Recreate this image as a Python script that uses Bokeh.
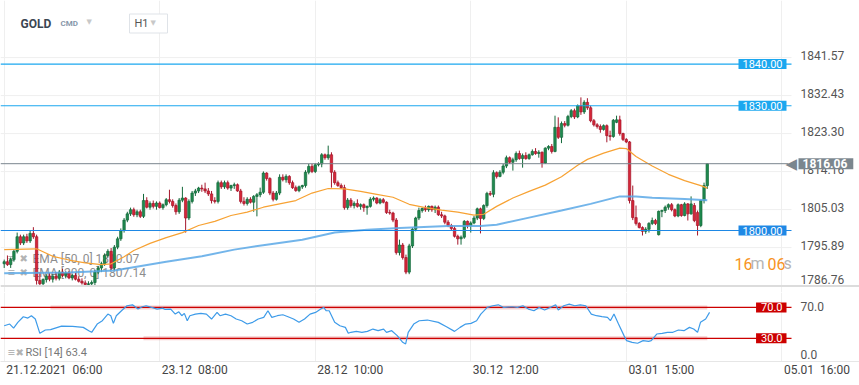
from bokeh.plotting import figure
from bokeh.layouts import column
from bokeh.models import Range1d, FixedTicker, Label, ColumnDataSource
from bokeh.core.properties import value
from bokeh.embed import file_html
from bokeh.resources import INLINE

# ---------------- data ----------------
instrument = "GOLD"
market = "CMD"
interval = "H1"

opens = [1792.0, 1792.5, 1791.8, 1793.0, 1795.0, 1798.5, 1797.0, 1798.5, 1797.5, 1799.3,
         1798.5, 1788.0, 1787.2, 1788.2, 1789.0, 1788.3, 1789.0, 1788.5, 1790.0, 1789.2,
         1789.8, 1788.6, 1789.2, 1788.3, 1787.8, 1787.4, 1787.0, 1787.2, 1787.5, 1790.0,
         1791.0, 1792.0, 1794.0, 1795.0, 1791.0, 1796.0, 1798.0, 1800.0, 1802.5, 1804.0,
         1805.0, 1803.8, 1804.5, 1803.4, 1807.2, 1805.6, 1806.5, 1805.8, 1806.6, 1805.5,
         1806.2, 1807.4, 1807.0, 1806.0, 1804.5, 1807.3, 1807.8, 1803.0, 1807.0, 1809.0,
         1809.5, 1810.2, 1810.0, 1809.5, 1808.8, 1807.2, 1807.0, 1811.5, 1810.5, 1811.5,
         1810.2, 1810.8, 1811.0, 1809.5, 1807.0, 1806.5, 1807.5, 1806.8, 1808.2, 1808.6,
         1809.2, 1813.8, 1812.5, 1809.0, 1807.5, 1809.0, 1812.8, 1812.2, 1813.0, 1811.5,
         1810.3, 1809.6, 1810.5, 1810.8, 1814.0, 1815.4, 1814.2, 1815.8, 1816.0, 1818.2,
         1817.5, 1818.2, 1814.0, 1811.5, 1810.8, 1810.3, 1805.5, 1807.3, 1806.0, 1806.5,
         1805.8, 1806.2, 1805.5, 1805.8, 1807.5, 1807.8, 1806.6, 1807.4, 1806.8, 1804.3,
         1804.2, 1802.5, 1794.7, 1796.5, 1793.5, 1790.0, 1796.3, 1800.3, 1803.0, 1804.8,
         1805.3, 1805.0, 1805.8, 1805.0, 1805.6, 1803.8, 1803.5, 1802.0, 1801.2, 1800.5,
         1798.6, 1798.0, 1798.4, 1802.2, 1801.2, 1801.8, 1803.0, 1805.2, 1802.9, 1806.0,
         1808.9, 1808.7, 1813.9, 1813.0, 1814.0, 1815.5, 1817.5, 1816.4, 1817.0, 1818.5,
         1817.3, 1818.0, 1817.3, 1818.2, 1819.0, 1818.5, 1818.8, 1816.2, 1819.8, 1820.2,
         1819.0, 1824.8, 1822.4, 1825.7, 1825.3, 1827.4, 1828.8, 1827.3, 1830.0, 1828.5,
         1830.8, 1829.5, 1826.4, 1825.4, 1825.0, 1824.3, 1825.2, 1822.8, 1822.6, 1826.0,
         1826.6, 1823.3, 1821.9, 1821.3, 1807.2, 1803.1, 1801.7, 1800.7, 1799.8, 1800.3,
         1801.7, 1802.4, 1799.0, 1804.6, 1804.8, 1805.6, 1806.2, 1805.0, 1803.5, 1806.2,
         1803.6, 1806.4, 1804.0, 1806.0, 1804.3, 1801.2, 1807.2, 1810.8]

highs = [1793.0, 1794.0, 1793.5, 1795.5, 1799.5, 1799.0, 1799.0, 1799.2, 1800.0, 1800.8,
         1799.0, 1790.0, 1788.5, 1789.5, 1789.8, 1789.5, 1790.0, 1790.5, 1790.8, 1790.2,
         1790.3, 1789.5, 1789.8, 1789.0, 1788.5, 1788.0, 1787.8, 1788.0, 1790.5, 1791.5,
         1792.5, 1794.5, 1795.5, 1795.8, 1796.5, 1798.5, 1800.5, 1803.0, 1804.5, 1805.5,
         1805.5, 1805.0, 1805.0, 1808.8, 1808.0, 1807.0, 1807.2, 1807.0, 1807.0, 1806.5,
         1807.8, 1809.8, 1807.5, 1806.5, 1807.8, 1810.5, 1808.0, 1807.5, 1809.5, 1810.0,
         1810.5, 1811.0, 1811.5, 1810.2, 1809.5, 1808.0, 1812.0, 1812.0, 1812.0, 1812.0,
         1811.0, 1811.5, 1811.3, 1810.0, 1808.0, 1808.0, 1808.0, 1808.5, 1809.0, 1810.3,
         1814.2, 1814.0, 1812.8, 1809.5, 1809.5, 1813.5, 1813.5, 1813.5, 1813.3, 1812.0,
         1810.8, 1810.8, 1811.0, 1814.5, 1816.0, 1816.0, 1816.2, 1816.4, 1818.6, 1818.5,
         1820.4, 1818.8, 1814.5, 1812.0, 1811.3, 1811.0, 1807.8, 1807.8, 1807.0, 1807.5,
         1806.5, 1806.5, 1806.0, 1808.0, 1808.2, 1808.0, 1807.8, 1807.8, 1807.0, 1805.0,
         1804.5, 1803.0, 1797.8, 1797.0, 1794.2, 1796.8, 1800.7, 1803.3, 1805.5, 1805.5,
         1806.0, 1806.0, 1806.0, 1806.0, 1806.0, 1804.5, 1803.8, 1802.5, 1801.6, 1801.0,
         1799.0, 1798.8, 1802.5, 1802.4, 1802.2, 1803.5, 1805.5, 1805.5, 1806.3, 1809.3,
         1809.5, 1814.5, 1814.2, 1814.5, 1816.0, 1818.0, 1817.8, 1817.5, 1819.0, 1819.2,
         1818.5, 1818.8, 1818.5, 1819.5, 1819.8, 1819.3, 1819.0, 1820.0, 1820.5, 1820.8,
         1827.6, 1827.2, 1826.2, 1826.3, 1827.8, 1829.2, 1829.3, 1830.3, 1832.0, 1831.3,
         1831.8, 1830.0, 1826.8, 1825.8, 1825.5, 1825.5, 1825.5, 1824.0, 1826.8, 1827.6,
         1827.6, 1823.5, 1822.2, 1821.5, 1810.8, 1806.0, 1802.0, 1801.0, 1800.8, 1802.0,
         1803.1, 1802.8, 1804.8, 1805.0, 1806.0, 1806.5, 1806.6, 1805.3, 1806.5, 1806.4,
         1806.8, 1806.6, 1808.2, 1806.6, 1804.8, 1807.4, 1811.5, 1816.2]

lows = [1791.0, 1791.5, 1791.0, 1792.5, 1794.5, 1796.5, 1796.5, 1797.0, 1797.0, 1798.0,
        1787.0, 1786.8, 1786.8, 1787.5, 1787.8, 1787.5, 1788.0, 1788.0, 1788.8, 1788.5,
        1788.3, 1788.0, 1788.0, 1787.5, 1787.0, 1786.8, 1786.8, 1786.8, 1786.8, 1789.5,
        1790.0, 1791.5, 1793.5, 1790.5, 1790.5, 1795.5, 1797.5, 1799.5, 1802.0, 1803.5,
        1803.3, 1803.2, 1803.0, 1803.0, 1805.3, 1805.0, 1805.3, 1805.0, 1805.3, 1805.0,
        1805.8, 1806.5, 1805.5, 1803.8, 1804.0, 1806.8, 1799.5, 1802.5, 1806.5, 1808.3,
        1809.0, 1809.3, 1809.0, 1808.3, 1806.5, 1806.5, 1806.5, 1810.0, 1810.0, 1809.8,
        1809.5, 1810.0, 1809.3, 1806.5, 1806.0, 1806.0, 1806.5, 1804.5, 1803.4, 1808.0,
        1808.8, 1812.0, 1808.5, 1807.0, 1807.2, 1808.5, 1811.8, 1811.5, 1811.0, 1810.0,
        1809.3, 1809.2, 1810.0, 1810.3, 1813.5, 1813.8, 1813.8, 1815.4, 1815.2, 1817.0,
        1817.0, 1810.3, 1811.0, 1810.5, 1810.0, 1805.0, 1805.0, 1805.5, 1805.3, 1805.5,
        1805.0, 1804.5, 1803.8, 1805.5, 1807.0, 1806.3, 1806.3, 1806.5, 1804.0, 1803.8,
        1802.0, 1794.2, 1794.0, 1793.0, 1789.5, 1789.5, 1795.8, 1799.8, 1802.5, 1804.3,
        1804.5, 1804.5, 1804.5, 1804.2, 1803.5, 1803.0, 1801.5, 1800.8, 1800.0, 1798.3,
        1796.6, 1796.6, 1798.0, 1800.5, 1799.5, 1801.5, 1802.5, 1799.3, 1802.5, 1805.5,
        1808.3, 1808.0, 1812.5, 1812.8, 1813.5, 1815.0, 1816.0, 1814.4, 1816.5, 1817.0,
        1815.1, 1817.0, 1817.0, 1818.0, 1818.2, 1817.5, 1815.1, 1816.0, 1819.3, 1818.5,
        1818.8, 1822.0, 1821.0, 1824.8, 1825.0, 1827.0, 1826.8, 1827.0, 1827.8, 1828.0,
        1829.0, 1826.0, 1825.0, 1824.5, 1823.5, 1824.0, 1821.2, 1821.6, 1822.3, 1825.8,
        1822.8, 1821.5, 1821.0, 1806.5, 1802.5, 1801.2, 1800.5, 1798.8, 1799.2, 1799.5,
        1801.3, 1801.3, 1798.8, 1803.2, 1804.2, 1805.0, 1804.6, 1803.2, 1803.2, 1803.3,
        1803.4, 1802.4, 1803.8, 1802.0, 1798.8, 1800.8, 1806.5, 1810.0]

closes = [1792.5, 1791.8, 1793.0, 1795.0, 1798.5, 1797.0, 1798.5, 1797.5, 1799.3, 1798.5,
          1788.0, 1787.2, 1788.2, 1789.0, 1788.3, 1789.0, 1788.5, 1790.0, 1789.2, 1789.8,
          1788.6, 1789.2, 1788.3, 1787.8, 1787.4, 1787.0, 1787.2, 1787.5, 1790.0, 1791.0,
          1792.0, 1794.0, 1795.0, 1791.0, 1796.0, 1798.0, 1800.0, 1802.5, 1804.0, 1805.0,
          1803.8, 1804.5, 1803.4, 1807.2, 1805.6, 1806.5, 1805.8, 1806.6, 1805.5, 1806.2,
          1807.4, 1807.0, 1806.0, 1804.5, 1807.3, 1807.8, 1803.0, 1807.0, 1809.0, 1809.5,
          1810.2, 1810.0, 1809.5, 1808.8, 1807.2, 1807.0, 1811.5, 1810.5, 1811.5, 1810.2,
          1810.8, 1811.0, 1809.5, 1807.0, 1806.5, 1807.5, 1806.8, 1808.2, 1808.6, 1809.2,
          1813.8, 1812.5, 1809.0, 1807.5, 1809.0, 1812.8, 1812.2, 1813.0, 1811.5, 1810.3,
          1809.6, 1810.5, 1810.8, 1814.0, 1815.4, 1814.2, 1815.8, 1816.0, 1818.2, 1817.5,
          1818.2, 1814.0, 1811.5, 1810.8, 1810.3, 1805.5, 1807.3, 1806.0, 1806.5, 1805.8,
          1806.2, 1805.5, 1805.8, 1807.5, 1807.8, 1806.6, 1807.4, 1806.8, 1804.3, 1804.2,
          1802.5, 1794.7, 1796.5, 1793.5, 1790.0, 1796.3, 1800.3, 1803.0, 1804.8, 1805.3,
          1805.0, 1805.8, 1805.0, 1805.6, 1803.8, 1803.5, 1802.0, 1801.2, 1800.5, 1798.6,
          1798.0, 1798.4, 1802.2, 1801.2, 1801.8, 1803.0, 1805.2, 1802.9, 1806.0, 1808.9,
          1808.7, 1813.9, 1813.0, 1814.0, 1815.5, 1817.5, 1816.4, 1817.0, 1818.5, 1817.3,
          1818.0, 1817.3, 1818.2, 1819.0, 1818.5, 1818.8, 1816.2, 1819.8, 1820.2, 1819.0,
          1824.8, 1822.4, 1825.7, 1825.3, 1827.4, 1828.8, 1827.3, 1830.0, 1828.5, 1830.8,
          1829.5, 1826.4, 1825.4, 1825.0, 1824.3, 1825.2, 1822.8, 1822.6, 1826.5, 1826.6,
          1823.3, 1821.9, 1821.3, 1807.2, 1803.1, 1801.7, 1800.7, 1799.8, 1800.3, 1801.7,
          1802.4, 1801.7, 1804.6, 1804.8, 1805.6, 1806.2, 1805.0, 1803.5, 1806.2, 1803.6,
          1806.4, 1804.0, 1806.4, 1802.4, 1801.2, 1807.2, 1810.8, 1816.06]

ema50_idx = [0, 10, 15, 20, 25, 30, 33, 37, 40, 45, 50, 55, 60, 65, 70, 75, 80, 85, 90, 95,
             100, 105, 110, 115, 120, 125, 130, 135, 140, 145, 148, 152, 157, 162, 167, 172,
             177, 180, 185, 190, 192, 195, 200, 205, 210, 215, 217]
ema50_val = [1795.4, 1795.6, 1793.8, 1792.9, 1792.2, 1791.8, 1792.0, 1793.7, 1795.2, 1796.9,
             1798.3, 1799.5, 1801.2, 1802.2, 1803.6, 1804.4, 1805.6, 1806.4, 1807.2, 1809.0,
             1810.1, 1810.0, 1809.4, 1808.7, 1808.0, 1806.3, 1805.5, 1804.9, 1804.4, 1803.7,
             1803.9, 1805.8, 1807.8, 1809.4, 1810.9, 1812.9, 1815.7, 1817.1, 1818.6, 1819.8,
             1819.7, 1817.8, 1815.5, 1813.5, 1812.0, 1810.8, 1810.2]

ema200_idx = [0, 20, 34, 50, 61, 71, 81, 92, 102, 112, 122, 137, 147, 152, 162, 172, 181,
              190, 195, 200, 210, 217]
ema200_val = [1789.7, 1789.9, 1790.4, 1792.5, 1793.8, 1795.4, 1796.6, 1797.8, 1799.5, 1800.2,
              1800.6, 1801.1, 1801.1, 1801.4, 1803.1, 1804.8, 1806.4, 1808.2, 1808.2, 1807.9,
              1807.6, 1807.3]

rsi_idx = [0, 1.7, 2.9, 4.2, 5.9, 7.3, 8.4, 9.6, 11, 12.7,
           14.3, 17.7, 21.1, 24.4, 26.1, 27, 28.7, 30.3, 32, 32.9,
           33.7, 34.6, 36.2, 37.9, 39.6, 41.3, 42.6, 43.8, 45.5, 47.2,
           48.9, 49.7, 51.4, 52.8, 53.9, 54.8, 55.6, 56.5, 57.3, 59,
           60.7, 62.4, 64, 65.7, 66.6, 68.3, 70, 71.6, 73.3, 75,
           76.7, 78.4, 80.1, 81.4, 82.6, 84.3, 86, 87.6, 89.3, 91,
           92.7, 94.4, 96.1, 97.7, 98.6, 99.4, 100.3, 102, 103.6, 105.3,
           106.2, 107, 108.7, 110.4, 112.1, 113.8, 115.4, 117.1, 118, 119.6,
           121.3, 123, 123.9, 124.7, 126.4, 128.1, 130.6, 134, 136.5, 139,
           140.7, 142.4, 144.1, 145.8, 147.1, 149.1, 150.8, 152.5, 154.2, 156.7,
           158.4, 160.1, 161.8, 163.5, 165.1, 166.8, 168.5, 170.2, 171, 172.7,
           174.4, 176.1, 177.8, 179.5, 181.2, 182.8, 184.5, 186.2, 187.1, 188.2,
           189.6, 191.3, 192.1, 193.8, 195.5, 197.2, 198.9, 199.7, 201.4, 203.1,
           204.7, 206.4, 208.1, 209.8, 211.5, 212.8, 214, 214.9, 216.5, 217.7]
rsi_val = [46.3, 48.5, 43.3, 50.7, 58, 56.2, 59.3, 55, 36.5, 40.8,
           41.2, 45.9, 45.5, 44.2, 39.9, 37.8, 48.5, 52.8, 61.4, 59.3,
           49.4, 59.3, 65.7, 72.2, 73.4, 67.9, 70.9, 72.2, 70, 67.9,
           69.1, 67.4, 67.9, 61.4, 64.4, 59.3, 62.3, 52.8, 59.3, 61.4,
           62.3, 61.4, 55, 63.6, 59.3, 61.4, 59.3, 55, 52.8, 48.5,
           50.7, 55, 57.1, 65.7, 57.1, 59.3, 60.5, 58, 55, 50.7,
           55, 61.4, 63.6, 67.9, 70, 65.7, 65.7, 50.7, 46.3, 44.2,
           36.5, 37.8, 39, 37.8, 39, 42, 39.9, 42, 37.8, 39.9,
           33.5, 24.8, 22.7, 37.8, 48.5, 52.8, 53.7, 50.7, 45.1, 39,
           44.2, 48.5, 49.4, 52.8, 61.4, 70, 72.2, 73.4, 70, 70.9,
           70, 72.2, 67.9, 65.7, 70, 66.6, 70, 73.4, 66.6, 72.2,
           74.3, 72.2, 73.4, 72.2, 61.4, 59.3, 58, 57.1, 52.8, 61.4,
           48.5, 33.5, 27, 24.8, 23.6, 27, 26.1, 27, 35.6, 36.5,
           37.8, 37.8, 40.8, 39.9, 44.2, 42, 37.8, 50.7, 55, 63.6]

price_ticks = [1841.57, 1832.43, 1823.30, 1814.16, 1805.03, 1795.89, 1786.76]
rsi_ticks = [70.0, 0.0]
time_ticks = [0, 48, 96, 144, 192, 240]
time_labels = ["21.12.2021 \u00a006:00", "23.12 \u00a008:00", "28.12 \u00a010:00",
               "30.12 \u00a012:00", "03.01 \u00a015:00", "05.01 \u00a016:00"]
alert_levels = [1840.00, 1830.00, 1800.00]
last_price = 1816.06
rsi_levels = [70.0, 30.0]
ema_legend = ["EMA [50, 0] 1810.07", "EMA [200, 0] 1807.14"]
rsi_legend = "RSI [14]  63.4"
countdown = ["16", "m", "06", "s"]

# ---------------- styling / geometry ----------------
FONT = "Roboto"
UP_FILL, UP_LINE = "#1f8a4f", "#13683a"
DN_FILL, DN_LINE = "#d62637", "#a5162b"
ALERT_COL = ["#1ba7ef", "#1ba7ef", "#1e88e5"]
TAG_COL = "#7b868e"
GRID_COL = "#efefef"
W = 859
PLOT_RIGHT = 791          # px where the plotting area ends, price scale to its right
PX_PER_BAR = 3.24


def xi(px):  # page pixel x -> candle index
    return (px - 3.7) / PX_PER_BAR


def yp(py):  # page pixel y -> price
    return 1800.0 + (230.0 - py) / 4.16


MAIN_H = 292
RSI_H = 385 - MAIN_H
RSI_AXIS_H = 24
RSI_PX = 0.775
RSI_TOP = (MAIN_H + 0.0 - 361.25) / -RSI_PX


def yr(py):  # page pixel y -> rsi value
    return (361.25 - py) / RSI_PX


def text_w(s, size=12):  # rough Roboto width estimate
    w = 0.0
    for ch in s:
        if ch.isdigit():
            w += 0.562
        elif ch in ".:":
            w += 0.26
        else:
            w += 0.25
    return w * size


common = dict(output_backend="svg", toolbar_location=None, min_border_left=0,
              min_border_right=0, min_border_top=0, background_fill_color="white",
              border_fill_color="white", outline_line_color=None, y_axis_location=None)

x_rng = Range1d(xi(0), xi(W))
x0, x_end = xi(0), xi(PLOT_RIGHT)

# ---------------- main price pane ----------------
main = figure(width=W, height=MAIN_H, x_range=x_rng, y_range=Range1d(yp(MAIN_H), yp(0)),
              x_axis_location=None, min_border_bottom=0, **common)
main.xgrid.ticker = FixedTicker(ticks=time_ticks)
main.xgrid.grid_line_color = GRID_COL
main.ygrid.visible = False
n_pt = len(price_ticks)
main.segment(x0=[x0] * n_pt, y0=price_ticks, x1=[x_end] * n_pt, y1=price_ticks,
             line_color=GRID_COL, line_width=1)
pt_src = ColumnDataSource(dict(y=price_ticks, t=[f"{v:.2f}" for v in price_ticks],
                               dy=[-2] * (n_pt - 1) + [-6]))
main.text(x=xi(800), y="y", text="t", y_offset="dy", source=pt_src, text_font=value(FONT),
          text_font_size="12px", text_color="#555555", text_baseline="middle", text_align="left")

# legend texts under the candles
for k, txt in enumerate(ema_legend):
    yy = yp(258 + 14 * k)
    main.add_layout(Label(x=xi(7), y=yy, text="\u2261", text_font=FONT, text_font_size="13px",
                          text_color="#a9a9a9", text_baseline="middle", level="underlay"))
    main.add_layout(Label(x=xi(19), y=yy, text="\u2716", text_font="DejaVu Sans", text_font_size="10px",
                          text_color="#b3b3b3", text_baseline="middle", level="underlay"))
    main.add_layout(Label(x=xi(32), y=yy, text=txt, text_font=FONT, text_font_size="12px",
                          text_color="#8d8d8d", text_baseline="middle", level="underlay"))

# candles
idx = list(range(len(closes)))
up = [c >= o for o, c in zip(opens, closes)]


def pick(seq, flag):
    return [v for v, f in zip(seq, up) if f == flag]


for flag, fill, line in [(True, UP_FILL, UP_LINE), (False, DN_FILL, DN_LINE)]:
    src = ColumnDataSource(dict(
        x=pick(idx, flag), high=pick(highs, flag), low=pick(lows, flag),
        top=[max(o, c) for o, c in zip(pick(opens, flag), pick(closes, flag))],
        bottom=[min(o, c) for o, c in zip(pick(opens, flag), pick(closes, flag))]))
    main.segment(x0="x", y0="low", x1="x", y1="high", source=src, line_color=line, line_width=1)
    main.vbar(x="x", width=0.74, top="top", bottom="bottom", source=src,
              fill_color=fill, line_color=line, line_width=0.7)

# moving averages
main.line(ema200_idx, ema200_val, line_color="#5aa8e6", line_width=2.0, line_alpha=0.85)
main.line(ema50_idx, ema50_val, line_color="#f7a233", line_width=1.2)

# alert levels and last price
for lvl, col in zip(alert_levels, ALERT_COL):
    main.segment(x0=[x0], y0=[lvl], x1=[x_end], y1=[lvl], line_color=col, line_width=1.1)
    main.add_layout(Label(x=xi(786), y=lvl, text=f"{lvl:.2f}", text_align="right",
                          text_baseline="middle", text_font=FONT, text_font_size="11px",
                          text_color="white", background_fill_color=col,
                          padding=dict(left=4, right=4, top=1, bottom=1)))
main.segment(x0=[x0], y0=[last_price], x1=[xi(788)], y1=[last_price], line_color=TAG_COL,
             line_width=1)
main.add_layout(Label(x=xi(785), y=last_price, text="\u25c0", text_font="DejaVu Sans",
                      text_font_size="15px", text_color=TAG_COL, text_align="left",
                      text_baseline="middle"))
main.add_layout(Label(x=xi(798), y=last_price, text=f"{last_price:.2f}", text_align="left",
                      text_baseline="middle", text_font=FONT, text_font_size="12px",
                      text_font_style="bold", text_color="white", background_fill_color=TAG_COL,
                      padding=dict(left=4, right=6, top=1, bottom=1)))

# separator between panes
main.segment(x0=[xi(0)], y0=[yp(285.5)], x1=[xi(W)], y1=[yp(285.5)], line_color="#dcdcdc",
             line_width=2)

# countdown
cd_x = [734, 750, 767, 783]
cd_c = ["#f7931e", "#b5b5b5", "#f7931e", "#b5b5b5"]
for t, xx, cc in zip(countdown, cd_x, cd_c):
    main.add_layout(Label(x=xi(xx), y=yp(263), text=t, text_font=FONT, text_font_size="16px",
                          text_color=cc, text_baseline="middle"))

# header
main.add_layout(Label(x=xi(20), y=yp(23), text=instrument, text_font=FONT, text_font_size="12px",
                      text_font_style="bold", text_color="#3b4652", text_baseline="middle"))
main.add_layout(Label(x=xi(60), y=yp(23), text=market, text_font=FONT, text_font_size="8px",
                      text_font_style="bold", text_color="#8797aa", text_baseline="middle"))
main.add_layout(Label(x=xi(86), y=yp(21), text="\u25bc", text_font="DejaVu Sans",
                      text_font_size="7px", text_color="#c8c8c8", text_baseline="middle"))
main.add_layout(Label(x=xi(129), y=yp(23), text=interval, text_font=FONT, text_font_size="11px",
                      text_color="#555555", text_baseline="middle", background_fill_color="white",
                      border_line_color="#dfe3e8", border_line_width=1,
                      padding=dict(left=5, right=19, top=3, bottom=3)))
main.add_layout(Label(x=xi(150), y=yp(22), text="\u25bc", text_font="DejaVu Sans",
                      text_font_size="7px", text_color="#c8c8c8", text_baseline="middle"))

# ---------------- RSI pane ----------------
rsi = figure(width=W, height=RSI_H, x_range=x_rng, y_range=Range1d(0, RSI_TOP),
             min_border_bottom=RSI_AXIS_H, **common)
rsi.ygrid.visible = False
rsi.xgrid.ticker = FixedTicker(ticks=time_ticks)
rsi.xgrid.grid_line_color = GRID_COL
# time labels start just right of their grid line
lab_pos = [round(t + (text_w(s) / 2 + 2) / PX_PER_BAR, 3) for t, s in zip(time_ticks, time_labels)]
xa = rsi.xaxis[0]
xa.ticker = FixedTicker(ticks=lab_pos)
xa.major_label_overrides = {p: s for p, s in zip(lab_pos, time_labels)}
xa.major_label_standoff = 1
xa.major_tick_out = 0
xa.major_tick_in = 0
xa.major_tick_line_color = None
xa.minor_tick_line_color = None
xa.axis_line_color = "#e6e6e6"
xa.major_label_text_font = FONT
xa.major_label_text_font_size = "12px"
xa.major_label_text_color = "#444444"

rt_src = ColumnDataSource(dict(y=rsi_ticks, t=[f"{v:.1f}" for v in rsi_ticks], dy=[-1, -7]))
rsi.text(x=xi(800), y="y", text="t", y_offset="dy", source=rt_src, text_font=value(FONT),
         text_font_size="12px", text_color="#555555", text_baseline="middle", text_align="left")

band_start = [xi(50), xi(143)]
for lvl, bs in zip(rsi_levels, band_start):
    rsi.segment(x0=[bs], y0=[lvl], x1=[idx[-1]], y1=[lvl], line_color="#e88585",
                line_width=4, line_alpha=0.4)
    rsi.segment(x0=[x0], y0=[lvl], x1=[x_end], y1=[lvl], line_color="#cc0000", line_width=1.2)
    rsi.add_layout(Label(x=xi(786), y=lvl, text=f"{lvl:.1f}", text_align="right",
                         text_baseline="middle", text_font=FONT, text_font_size="11px",
                         text_color="white", background_fill_color="#cc0000",
                         padding=dict(left=5, right=4, top=1, bottom=1)))

rsi.line(rsi_idx, rsi_val, line_color="#3d9be9", line_width=1.2)

rsi.add_layout(Label(x=xi(7), y=yr(352), text="\u2261", text_font=FONT, text_font_size="13px",
                     text_color="#a9a9a9", text_baseline="middle"))
rsi.add_layout(Label(x=xi(15), y=yr(352), text="\u2716", text_font="DejaVu Sans",
                     text_font_size="10px", text_color="#b3b3b3", text_baseline="middle"))
rsi.add_layout(Label(x=xi(25), y=yr(352), text=rsi_legend, text_font=FONT, text_font_size="11px",
                     text_color="#777777", text_baseline="middle"))

layout = column(main, rsi, spacing=0)
open("out.html", "w").write(file_html(layout, INLINE))
